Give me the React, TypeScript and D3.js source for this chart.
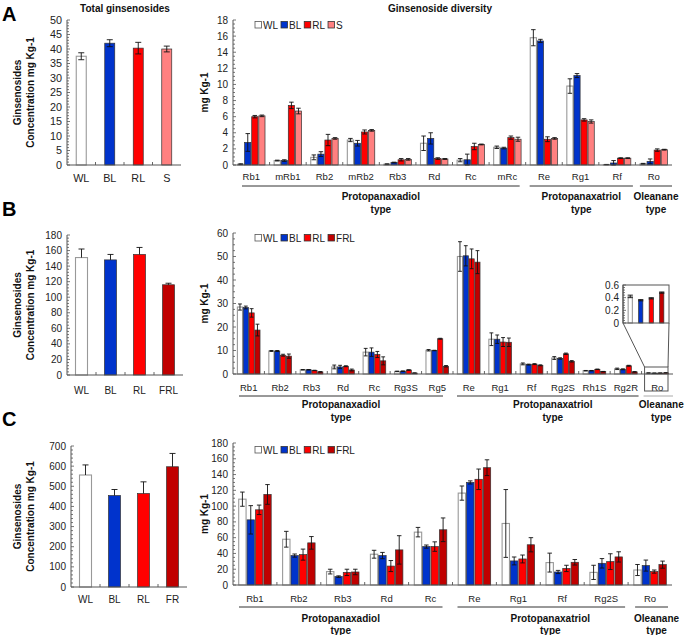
import React, { useEffect, useRef } from "react";
import * as d3 from "d3";

const FONT = "'Liberation Sans', Arial, Helvetica, sans-serif";

// ---------- DATA ----------
const seriesA = ["WL", "BL", "RL", "S"];
const seriesBC = ["WL", "BL", "RL", "FRL"];

const totalCatsA = ["WL", "BL", "RL", "S"];
const totalCatsB = ["WL", "BL", "RL", "FRL"];
const totalCatsC = ["WL", "BL", "RL", "FR"];
const totalA = [37.5, 42, 40.3, 40];
const totalAErr = [1.2, 1.2, 2, 1];
const totalB = [151, 148, 155, 116];
const totalBErr = [11, 7, 9, 2];
const totalC = [556, 454, 464, 597];
const totalCErr = [50, 30, 58, 66];

const compoundsA = ["Rb1", "mRb1", "Rb2", "mRb2", "Rb3", "Rd", "Rc", "mRc", "Re", "Rg1", "Rf", "Ro"];
const A_WL = [0.1, 0.55, 0.95, 3.1, 0.1, 2.7, 0.6, 2.2, 15.8, 9.8, 0.05, 0.15];
const A_WL_err = [0.05, 0.05, 0.3, 0.2, 0.05, 0.9, 0.2, 0.15, 1.0, 0.9, 0.02, 0.05];
const A_BL = [2.8, 0.55, 1.35, 2.7, 0.3, 3.3, 0.65, 2.1, 15.4, 11.1, 0.25, 0.45];
const A_BL_err = [1.1, 0.1, 0.3, 0.35, 0.05, 0.7, 0.7, 0.1, 0.2, 0.25, 0.3, 0.3];
const A_RL = [6.0, 7.4, 3.1, 4.1, 0.65, 0.8, 2.3, 3.4, 3.2, 5.6, 0.85, 1.85];
const A_RL_err = [0.15, 0.4, 0.7, 0.25, 0.15, 0.1, 0.4, 0.2, 0.3, 0.15, 0.05, 0.15];
const A_S = [6.1, 6.7, 3.3, 4.3, 0.7, 0.75, 2.55, 3.2, 3.3, 5.4, 0.85, 1.9];
const A_S_err = [0.1, 0.35, 0.1, 0.1, 0.1, 0.05, 0.05, 0.25, 0.1, 0.2, 0.05, 0.05];

const compoundsB = ["Rb1", "Rb2", "Rb3", "Rd", "Rc", "Rg3S", "Rg5", "Re", "Rg1", "Rf", "Rg2S", "Rh1S", "Rg2R", "Ro"];
const B_WL = [28.5, 9.8, 1.8, 3.0, 9.3, 1.1, 10.1, 50, 14.8, 4.3, 6.8, 1.4, 2.2, 0.42];
const B_WL_err = [1.3, 0.2, 0.1, 0.8, 1.6, 0.1, 0.3, 6.3, 2.7, 0.4, 0.6, 0.1, 0.3, 0.02];
const B_BL = [28.3, 9.8, 1.8, 3.0, 9.3, 1.2, 10.0, 50.3, 14.8, 4.0, 6.6, 1.4, 2.0, 0.36];
const B_BL_err = [0.6, 0.2, 0.1, 0.7, 1.8, 0.1, 0.1, 4.3, 1.8, 0.2, 0.3, 0.1, 0.2, 0.01];
const B_RL = [26, 8.0, 1.5, 3.3, 8.3, 1.7, 15.0, 49, 13.6, 4.2, 8.6, 2.0, 3.5, 0.39];
const B_RL_err = [1.8, 0.4, 0.1, 0.2, 1.3, 0.1, 0.2, 4.2, 1.9, 0.2, 0.3, 0.1, 0.2, 0.01];
const B_FRL = [18.7, 7.6, 0.9, 1.7, 5.6, 0.4, 3.3, 47.6, 13.5, 3.7, 5.4, 1.0, 0.9, 0.48];
const B_FRL_err = [2.5, 0.9, 0.1, 0.4, 1.7, 0.05, 0.3, 4.9, 1.8, 0.2, 0.3, 0.1, 0.1, 0.01];

const compoundsC = ["Rb1", "Rb2", "Rb3", "Rd", "Rc", "Re", "Rg1", "Rf", "Rg2S", "Ro"];
const C_WL = [108.8, 58, 17, 39, 67, 116.5, 78, 28.4, 16, 19];
const C_WL_err = [9, 10, 3, 5, 6, 9, 43, 12, 9, 7];
const C_BL = [82.6, 37.3, 10.6, 37.3, 48.7, 130, 30.5, 16.5, 27.5, 24.6];
const C_BL_err = [18, 2, 1, 4, 2, 2, 5, 2, 6, 7];
const C_RL = [95.3, 38.5, 16, 24, 48.7, 134, 33, 21, 29.6, 17];
const C_RL_err = [6, 7, 4, 7, 6, 13, 5, 4, 10, 2];
const C_FRL = [114.8, 53.4, 16.5, 44.5, 70, 148.7, 51, 28.8, 35.6, 25.8];
const C_FRL_err = [12.5, 8, 3.5, 18, 15, 10, 9, 3.5, 6.5, 4.5];

const groupNames = [["Protopanaxadiol", "type"], ["Protopanaxatriol", "type"], ["Oleanane", "type"]];
const groupsA = [[0, 7], [8, 10], [11, 11]];
const groupsB = [[0, 6], [7, 12], [13, 13]];
const groupsC = [[0, 4], [5, 8], [9, 9]];

const COL: Record<string, string> = {
  WL: "#ffffff",
  BL: "#0033cc",
  RL: "#ff0000",
  S: "#ff8080",
  FRL: "#c00000",
  FR: "#c00000",
};

const AXIS = "#555";

type Sel = d3.Selection<SVGGElement, unknown, null, undefined>;

function yAxis(g: Sel, x: number, y: d3.ScaleLinear<number, number>, max: number, step: number, minorDiv: number, fs = 10, labelGap = 5, fmt = (v: number) => String(v)) {
  g.append("line").attr("x1", x).attr("x2", x).attr("y1", y(0)).attr("y2", y(max)).attr("stroke", AXIS).attr("stroke-width", 1);
  const n = Math.round((max / step) * minorDiv);
  for (let i = 0; i <= n; i++) {
    const v = (i * step) / minorDiv;
    const major = i % minorDiv === 0;
    g.append("line")
      .attr("x1", x).attr("x2", x + (major ? 3 : 2))
      .attr("y1", y(v)).attr("y2", y(v))
      .attr("stroke", AXIS).attr("stroke-width", 0.8);
  }
  const majors = d3.range(0, max + step / 2, step);
  g.selectAll(null).data(majors).enter().append("text")
    .attr("x", x - labelGap).attr("y", (d) => y(d as number)).attr("dy", "0.35em")
    .attr("text-anchor", "end").attr("font-size", fs).attr("fill", "#222")
    .text((d) => fmt(d as number));
}

function xAxis(g: Sel, x: d3.ScaleBand<string>, yb: number, cats: string[]) {
  const [r0, r1] = x.range();
  g.append("line").attr("x1", r0).attr("x2", r1).attr("y1", yb).attr("y2", yb).attr("stroke", AXIS).attr("stroke-width", 1);
  for (let i = 1; i < cats.length; i++) {
    const bx = x(cats[i])!;
    g.append("line").attr("x1", bx).attr("x2", bx).attr("y1", yb).attr("y2", yb - 3).attr("stroke", AXIS).attr("stroke-width", 0.9);
  }
}

function bar(g: Sel, bx: number, w: number, y0: number, y1: number, color: string) {
  const white = color === "#ffffff";
  g.append("rect").attr("x", bx).attr("y", Math.min(y0, y1)).attr("width", w).attr("height", Math.abs(y0 - y1))
    .attr("fill", color).attr("stroke", white ? "#999" : "#333").attr("stroke-width", white ? 1.1 : 0.7);
}

function err(g: Sel, cx: number, yv: number, yhi: number, ylo: number, cap: number, upOnly: boolean) {
  const top = yhi;
  const bottom = upOnly ? yv : ylo;
  g.append("line").attr("x1", cx).attr("x2", cx).attr("y1", top).attr("y2", bottom).attr("stroke", "#111").attr("stroke-width", 0.9);
  g.append("line").attr("x1", cx - cap / 2).attr("x2", cx + cap / 2).attr("y1", top).attr("y2", top).attr("stroke", "#111").attr("stroke-width", 0.9);
  if (!upOnly) g.append("line").attr("x1", cx - cap / 2).attr("x2", cx + cap / 2).attr("y1", ylo).attr("y2", ylo).attr("stroke", "#111").attr("stroke-width", 0.9);
}

function leftPanel(svg: Sel, cfg: any) {
  const g = svg.append("g");
  const x = d3.scaleBand().domain(cfg.cats).range([cfg.x0, cfg.x1]);
  const y = d3.scaleLinear().domain([0, cfg.max]).range([cfg.yBot, cfg.yTop]);
  cfg.cats.forEach((c: string, i: number) => {
    const cx = x(c)! + x.bandwidth() / 2;
    bar(g, cx - cfg.barW / 2, cfg.barW, y(0), y(cfg.vals[i]), COL[c]);
    err(g, cx, y(cfg.vals[i]), y(cfg.vals[i] + cfg.errs[i]), y(cfg.vals[i] - cfg.errs[i]), 6, cfg.upOnly);
  });
  yAxis(g, cfg.x0, y, cfg.max, cfg.step, 5, cfg.fs, 5);
  xAxis(g, x, cfg.yBot, cfg.cats);
  g.selectAll(null).data(cfg.cats).enter().append("text")
    .attr("x", (d) => x(d as string)! + x.bandwidth() / 2).attr("y", cfg.labelY)
    .attr("text-anchor", "middle").attr("font-size", cfg.fs).attr("fill", "#222").text((d) => d as string);
  // axis title
  const cy = (cfg.yTop + cfg.yBot) / 2;
  g.append("text").attr("transform", `translate(21,${cy}) rotate(-90)`).attr("text-anchor", "middle")
    .attr("font-size", 10).attr("font-weight", "bold").attr("fill", "#111").text("Ginsenosides");
  g.append("text").attr("transform", `translate(33.5,${cy}) rotate(-90)`).attr("text-anchor", "middle")
    .attr("font-size", 10).attr("font-weight", "bold").attr("fill", "#111").text("Concentration mg Kg-1");
}

function legend(svg: Sel, names: string[], x0: number, yc: number) {
  const g = svg.append("g");
  let x = x0;
  names.forEach((n) => {
    const white = COL[n] === "#ffffff";
    g.append("rect").attr("x", x).attr("y", yc - 3.5).attr("width", 6.5).attr("height", 6.5)
      .attr("fill", COL[n]).attr("stroke", white ? "#555" : "#333").attr("stroke-width", 0.8);
    x += 8;
    const t = g.append("text").attr("x", x).attr("y", yc).attr("dy", "0.35em").attr("font-size", 10).attr("fill", "#222").text(n);
    const w = (t.node() as SVGTextElement).getComputedTextLength();
    x += w + 3;
  });
}

function rightPanel(svg: Sel, cfg: any) {
  const g = svg.append("g");
  const x = d3.scaleBand().domain(cfg.cats).range([cfg.x0, cfg.x1]);
  const y = d3.scaleLinear().domain([0, cfg.max]).range([cfg.yBot, cfg.yTop]);
  const gw = x.bandwidth() * cfg.frac;
  const inner = d3.scaleBand().domain(cfg.series.map((s: any) => s.name)).range([0, gw]).paddingInner(0.12);
  const off = (x.bandwidth() - gw) / 2;
  const bw = inner.bandwidth();
  cfg.cats.forEach((c: string, i: number) => {
    cfg.series.forEach((s: any) => {
      const bx = x(c)! + off + inner(s.name)!;
      const v = s.vals[i];
      bar(g, bx, bw, y(0), y(v), COL[s.name]);
      const e = s.errs[i];
      err(g, bx + bw / 2, y(v), y(v + e), y(Math.max(0, v - e)), Math.min(4.5, bw * 0.75), false);
    });
  });
  yAxis(g, cfg.x0, y, cfg.max, cfg.step, 4, 10, 5);
  xAxis(g, x, cfg.yBot, cfg.cats);
  g.selectAll(null).data(cfg.cats).enter().append("text")
    .attr("x", (d) => x(d as string)! + x.bandwidth() / 2).attr("y", cfg.labelY)
    .attr("text-anchor", "middle").attr("font-size", 9.5).attr("fill", "#222").text((d) => d as string);
  // groups
  cfg.groups.forEach((gr: number[], k: number) => {
    const s = x(cfg.cats[gr[0]])! + cfg.pads[k][0];
    const e = x(cfg.cats[gr[1]])! + x.bandwidth() - cfg.pads[k][1];
    g.append("line").attr("x1", s).attr("x2", e).attr("y1", cfg.lineY).attr("y2", cfg.lineY)
      .attr("stroke", cfg.lineColors ? cfg.lineColors[k] : "#333").attr("stroke-width", 1);
    const cx = (s + e) / 2 + cfg.dx[k];
    groupNames[k].forEach((ln, j) => {
      g.append("text").attr("x", cx).attr("y", cfg.textY[j]).attr("text-anchor", "middle")
        .attr("font-size", 10).attr("font-weight", "bold").attr("fill", "#111").text(ln);
    });
  });
  const cy = (cfg.yTop + cfg.yBot) / 2;
  g.append("text").attr("transform", `translate(208,${cy}) rotate(-90)`).attr("text-anchor", "middle")
    .attr("font-size", 10).attr("font-weight", "bold").attr("fill", "#111").text("mg Kg-1");
  legend(g, cfg.series.map((s: any) => s.name), 255, cfg.legendY);
  return { x, y };
}

export default function App() {
  const ref = useRef<SVGSVGElement>(null);
  useEffect(() => {
    const root = d3.select(ref.current as SVGSVGElement);
    root.selectAll("*").remove();
    const svg = root.append("g").attr("font-family", FONT) as unknown as Sel;

    // titles
    svg.append("text").attr("x", 125).attr("y", 12).attr("text-anchor", "middle").attr("font-size", 10).attr("font-weight", "bold").attr("fill", "#111").text("Total ginsenosides");
    svg.append("text").attr("x", 440).attr("y", 12).attr("text-anchor", "middle").attr("font-size", 10).attr("font-weight", "bold").attr("fill", "#111").text("Ginsenoside diversity");
    [["A", 21], ["B", 216], ["C", 426]].forEach(([l, yy]) => {
      svg.append("text").attr("x", 2).attr("y", yy as number).attr("font-size", 20).attr("font-weight", "bold").attr("fill", "#000").text(l as string);
    });

    // Panel A
    leftPanel(svg, { cats: totalCatsA, vals: totalA, errs: totalAErr, x0: 67, x1: 181, yTop: 20, yBot: 165, max: 50, step: 5, barW: 10, upOnly: false, labelY: 182, fs: 10.8 });
    rightPanel(svg, {
      cats: compoundsA,
      series: [
        { name: seriesA[0], vals: A_WL, errs: A_WL_err },
        { name: seriesA[1], vals: A_BL, errs: A_BL_err },
        { name: seriesA[2], vals: A_RL, errs: A_RL_err },
        { name: seriesA[3], vals: A_S, errs: A_S_err },
      ],
      x0: 233, x1: 672, yTop: 20, yBot: 165, max: 18, step: 2, frac: 0.75, labelY: 179.5,
      groups: groupsA, pads: [[9, 6], [4, 2.5], [4.5, 0]], dx: [0, 0, 0], lineY: 186, textY: [200, 212.5], legendY: 25,
    });

    // Panel B
    leftPanel(svg, { cats: totalCatsB, vals: totalB, errs: totalBErr, x0: 67, x1: 183, yTop: 235, yBot: 375, max: 180, step: 20, barW: 12, upOnly: true, labelY: 393.5, fs: 10 });
    const rb = rightPanel(svg, {
      cats: compoundsB,
      series: [
        { name: seriesBC[0], vals: B_WL, errs: B_WL_err },
        { name: seriesBC[1], vals: B_BL, errs: B_BL_err },
        { name: seriesBC[2], vals: B_RL, errs: B_RL_err },
        { name: seriesBC[3], vals: B_FRL, errs: B_FRL_err },
      ],
      x0: 233, x1: 673, yTop: 233, yBot: 374, max: 60, step: 10, frac: 0.72, labelY: 390.5,
      groups: groupsB, pads: [[6, 10], [4, 3], [2, 0]], dx: [0, 5, 3], lineY: 396, textY: [408, 421], legendY: 238,
      lineColors: ["#333", "#333", "#aaa"],
    });

    // Inset for Ro in B
    {
      const g = svg.append("g") as unknown as Sel;
      const ix0 = 623, ix1 = 669, iyTop = 285, iyBot = 323;
      const iy = d3.scaleLinear().domain([0, 0.6]).range([iyBot, iyTop]);
      const ixs = d3.scaleBand().domain(seriesBC).range([ix0 + 2, ix1 - 2]).paddingInner(0.6).paddingOuter(0.3);
      const vals = [B_WL, B_BL, B_RL, B_FRL];
      const errs = [B_WL_err, B_BL_err, B_RL_err, B_FRL_err];
      const ri = compoundsB.indexOf("Ro");
      seriesBC.forEach((s, k) => {
        const bx = ixs(s)!;
        const bw = ixs.bandwidth();
        const v = vals[k][ri];
        bar(g, bx, bw, iy(0), iy(v), COL[s]);
        err(g, bx + bw / 2, iy(v), iy(v + errs[k][ri]), iy(v - errs[k][ri]), bw + 1, false);
      });
      g.append("rect").attr("x", ix0).attr("y", iyTop).attr("width", ix1 - ix0).attr("height", iyBot - iyTop).attr("fill", "none").attr("stroke", AXIS).attr("stroke-width", 1);
      yAxis(g, ix0, iy, 0.6, 0.2, 5, 10, 4, (v) => (Math.abs(v) < 1e-9 ? "0" : v.toFixed(1)));
      const rx = rb.x("Ro")! + 3;
      const rx1 = rb.x("Ro")! + rb.x.bandwidth() - 5;
      const ryTop = 367, ryBot = 391;
      g.append("rect").attr("x", rx).attr("y", ryTop).attr("width", rx1 - rx).attr("height", ryBot - ryTop).attr("fill", "none").attr("stroke", AXIS).attr("stroke-width", 1);
      g.append("line").attr("x1", ix0).attr("y1", iyBot).attr("x2", rx).attr("y2", ryTop).attr("stroke", AXIS).attr("stroke-width", 1);
      g.append("line").attr("x1", ix1).attr("y1", iyBot).attr("x2", rx1).attr("y2", ryTop).attr("stroke", AXIS).attr("stroke-width", 1);
    }

    // Panel C
    leftPanel(svg, { cats: totalCatsC, vals: totalC, errs: totalCErr, x0: 71, x1: 187, yTop: 446, yBot: 587, max: 700, step: 100, barW: 12, upOnly: true, labelY: 602.5, fs: 10 });
    rightPanel(svg, {
      cats: compoundsC,
      series: [
        { name: seriesBC[0], vals: C_WL, errs: C_WL_err },
        { name: seriesBC[1], vals: C_BL, errs: C_BL_err },
        { name: seriesBC[2], vals: C_RL, errs: C_RL_err },
        { name: seriesBC[3], vals: C_FRL, errs: C_FRL_err },
      ],
      x0: 233, x1: 672, yTop: 443, yBot: 585, max: 180, step: 20, frac: 0.74, labelY: 601.5,
      groups: groupsC, pads: [[6, 10], [5, 3], [7, 4]], dx: [0, 9, 5], lineY: 607, textY: [622, 634], legendY: 450,
    });
  }, []);
  return (
    <svg ref={ref} width={685} height={635} style={{ position: "absolute", left: 0, top: 0, display: "block", background: "#fff" }} />
  );
}
